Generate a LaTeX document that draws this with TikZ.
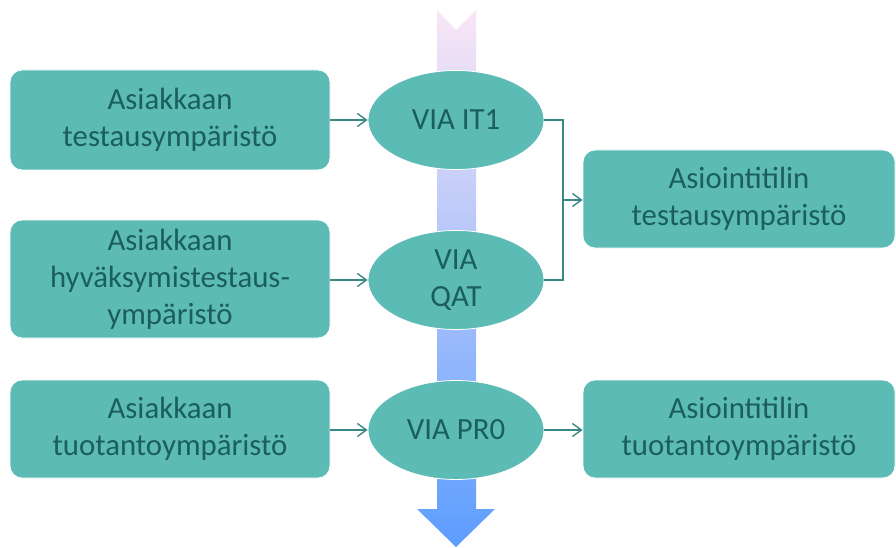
\documentclass[tikz,border=0pt]{standalone}
\usepackage{fontspec}
\setmainfont{Carlito}
\usetikzlibrary{arrows.meta,shapes.geometric}
\definecolor{boxfill}{HTML}{5CBCB5}
\definecolor{txt}{HTML}{1B5E5E}
\definecolor{conn}{HTML}{3A8886}
\definecolor{toppink}{HTML}{F9E6F5}
\definecolor{midblue}{HTML}{B8D4EE}
\definecolor{botblue}{HTML}{5C9DFF}
\begin{document}
\begin{tikzpicture}[x=1pt,y=-1pt,
  lbl/.style={text=txt,align=center,font=\fontsize{30.8}{37}\selectfont},
  rbox/.style={lbl,fill=boxfill,draw=white,line width=0.8pt,rounded corners=12pt,inner sep=0pt},
  ell/.style={lbl,ellipse,fill=boxfill,draw=white,line width=0.8pt,inner sep=0pt,minimum width=176pt,minimum height=99pt},
  link/.style={draw=conn,line width=1.4pt,-{Straight Barb[length=9pt,width=13pt,line width=1.4pt]}},
  plain/.style={draw=conn,line width=1.4pt}]
\useasboundingbox (0,0) rectangle (896,548);
\shade[top color=toppink,middle color=midblue,bottom color=botblue]
  (437,10) -- (456,30) -- (476,10) -- (476,509) -- (495,509) -- (456,547) -- (417,509) -- (437,509) -- cycle;
\node[rbox,minimum width=320pt,minimum height=100pt] (l1) at (170,120) {Asiakkaan\\testausympäristö};
\node[rbox,minimum width=320pt,minimum height=118pt] (l2) at (170,279) {Asiakkaan\\hyväksymistestaus-\\ympäristö};
\node[rbox,minimum width=320pt,minimum height=98pt] (l3) at (170,429) {Asiakkaan\\tuotantoympäristö};
\node[ell] (e1) at (456,120) {VIA IT1};
\node[ell] (e2) at (456,280) {VIA\\QAT};
\node[ell] (e3) at (456,430) {VIA PR0};
\node[rbox,minimum width=312pt,minimum height=98pt] (r1) at (739,199) {Asiointitilin\\testausympäristö};
\node[rbox,minimum width=312pt,minimum height=98pt] (r2) at (739,429) {Asiointitilin\\tuotantoympäristö};
\coordinate (j) at (563,200);
\draw[link] (l1.east) -- (e1.west);
\draw[link] (l2.east |- e2.west) -- (e2.west);
\draw[link] (l3.east |- e3.west) -- (e3.west);
\draw[plain] (e1.east) -| (j);
\draw[plain] (e2.east) -| (j);
\draw[link] (j) -- (j -| r1.west);
\draw[link] (e3.east) -- (e3.east -| r2.west);
\end{tikzpicture}
\end{document}
